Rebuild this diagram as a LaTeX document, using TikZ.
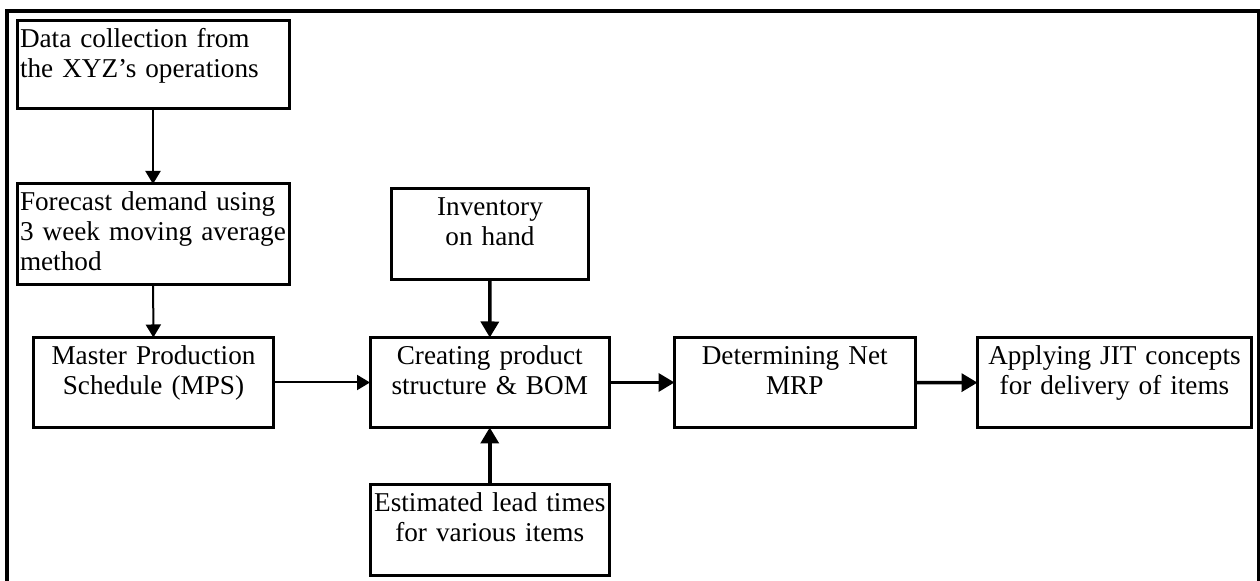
\documentclass[tikz,border=0pt]{standalone}
\usepackage{fontspec}
\setmainfont{Liberation Serif}
\usetikzlibrary{arrows.meta}

\begin{document}
\begin{tikzpicture}[x=0.5pt, y=-0.5pt,
    blk/.style={draw, line width=1.5pt, outer sep=0pt, inner ysep=0pt, anchor=north west,
        text height=13.5pt, text depth=31.5pt, font=\fontsize{13.6}{15}\selectfont},
    lbox/.style={blk, align=left, inner xsep=1.5pt},
    cbox/.style={blk, align=center, inner xsep=0pt},
    flow/.style={-{Triangle[length=6.5pt,width=7.5pt]}, line width=1pt},
    feed/.style={-{Triangle[length=8pt,width=9pt]}, line width=1.75pt}]

	\useasboundingbox (0,0) rectangle (1260,581);
	\draw[line width=2pt] (7,581) -- (7,11) -- (1258.5,11) -- (1258.5,581);

	\node[lbox, text width=133pt, text depth=30.5pt] (data) at (17,21) {Data collection from\\the XYZ’s operations};
	\node[lbox, text width=133pt, text depth=37pt] (fcst) at (17,184) {Forecast demand using\\\mbox{3 week moving average}\\method};
	\node[cbox, text width=120pt] (mps) at (33.5,337.5) {Master Production\\Schedule (MPS)};
	\node[cbox, text width=98.5pt, text depth=31.75pt] (inv) at (391.5,189) {Inventory\\on hand};
	\node[cbox, text width=119.75pt] (crt) at (370,337.5) {Creating product\\structure \& BOM};
	\node[cbox, text width=119.75pt, text depth=32pt] (est) at (370,485) {Estimated lead times\\for various items};
	\node[cbox, text width=120.25pt] (net) at (674.5,337.5) {Determining Net\\MRP};
	\node[cbox, text width=137pt, text depth=31.75pt] (jit) at (977.5,337.5) {Applying JIT concepts\\for delivery of items};

	\path[flow]
		(data) edge (fcst)
		(fcst) edge (mps)
		(mps)  edge (crt);
	\path[feed]
		(inv) edge (crt)
		(est) edge (crt)
		(crt) edge (net)
		(net) edge (jit);

\end{tikzpicture}
\end{document}
